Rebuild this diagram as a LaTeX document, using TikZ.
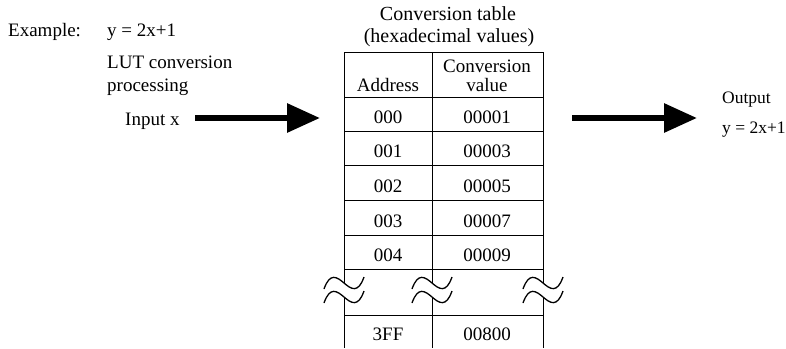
\documentclass[tikz,border=0pt]{standalone}
\usepackage{fontspec}
\setmainfont{Liberation Serif}
\usetikzlibrary{arrows.meta,calc,positioning}
\tikzset{
  luttext/.style={inner sep=0pt,anchor=base west,font=\fontsize{19}{22}\selectfont},
  lutcell/.style={inner sep=0pt,anchor=base,font=\fontsize{19}{22}\selectfont},
  luttitle/.style={lutcell,font=\fontsize{20}{23}\selectfont},
  lutout/.style={luttext,font=\fontsize{17.5}{20}\selectfont},
  lutline/.style={draw=black,line width=1pt},
  lutwave/.style={draw=black,line width=1.3pt},
  lutarrow/.style={draw=black,line width=6pt,-{Triangle[length=33pt,width=28pt]}},
}

\begin{document}
\begin{tikzpicture}[x=1pt,y=-1pt]
        \path[use as bounding box] (0,0) rectangle (786,348);
        % left texts
        \node[luttext] (ex) at (8,36) {Example:};
        \node[luttext] (eq) at (107,36) {y = 2x+1};
        \node[luttext] (lut) at (107,68) {LUT conversion};
        \node[luttext] (proc) at (107,91) {processing};
        \node[luttext] (inx) at (125,125) {Input x};
        % title
        \node[luttitle] (title) at (448,20) {Conversion table};
        \node[luttitle] (hexa) at (449,42) {(hexadecimal values)};
        % table grid
        \foreach \y in {52,97,131,165,200,235,269,315}
          {\draw[lutline] (344,\y) -- (543,\y);}
        \foreach \x in {344,432,543}
          {\draw[lutline] (\x,52) -- (\x,283);
           \draw[lutline] (\x,297) -- (\x,348);}
        \foreach \x in {344,432,543}
          \foreach \y in {283,297}
            {\draw[lutwave] (\x-20,\y+6) .. controls (\x-14,\y-11) and (\x-7,\y-6) .. (\x,\y)
               .. controls (\x+7,\y+6) and (\x+14,\y+11) .. (\x+20,\y-6);}
        % header and rows
        \node[lutcell] (hdaddr) at (388,91) {Address};
        \node[lutcell] (hdconv) at (487,72) {Conversion};
        \node[lutcell] (hdval) at (487,91) {value};
        \foreach \i/\a/\v/\y in {0/000/00001/123,1/001/00003/157,2/002/00005/192,
                                 3/003/00007/227,4/004/00009/261,5/3FF/00800/340}
          {\node[lutcell] (addr\i) at (388,\y) {\a};
           \node[lutcell] (val\i) at (487,\y) {\v};}
        % arrows
        \coordinate (inS) at (195,118);
        \coordinate (inE) at (320,118);
        \coordinate (outS) at (572,118);
        \coordinate (outE) at (697,118);
        \draw[lutarrow] (inS) -- (inE);
        \draw[lutarrow] (outS) -- (outE);
        % output
        \node[lutout] (outp) at (722,103) {Output};
        \node[lutout] (outeq) at (722,133) {y = 2x+1};
      \end{tikzpicture}
\end{document}
